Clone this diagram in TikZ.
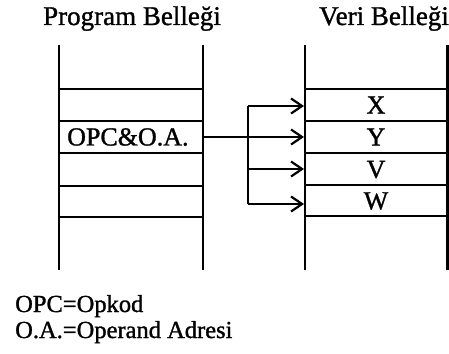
\documentclass[tikz,border=0pt]{standalone}
\usepackage{fontspec}
\setmainfont{Liberation Serif}[FakeBold=1.2]
\usetikzlibrary{arrows.meta}
\begin{document}
\begin{tikzpicture}[x=1pt,y=-1pt,
  wall/.style={line width=2.8pt},
  rowline/.style={line width=2pt},
  link/.style={line width=1.8pt},
  ptr/.style={link,-{Straight Barb[length=11pt,width=15pt,line width=2.2pt]}},
  title/.style={font=\fontsize{27}{30}\selectfont,inner sep=0pt},
  cell/.style={font=\fontsize{26}{28}\selectfont,inner sep=0pt},
  note/.style={font=\fontsize{24.5}{26}\selectfont,inner sep=0pt,anchor=base west}]
\useasboundingbox (0,0) rectangle (449,353);
% titles
\node[title,anchor=base] (tp) at (132,25) {Program Belleği};
\node[title,anchor=base] (tv) at (384,25) {Veri Belleği};
% program memory
\draw[wall] (59,45) -- (59,270);
\draw[wall] (203,45) -- (203,270);
\foreach \yy in {89,121,153,186,217} \draw[rowline] (59,\yy) -- (203,\yy);
% data memory
\draw[wall] (305,45) -- (305,270);
\draw[wall] (447.5,45) -- (447.5,270);
\foreach \yy in {89,121,153,185,216} \draw[rowline] (305,\yy) -- (448,\yy);
% cells
\node[cell,anchor=west] (opc) at (67,137) {OPC\&O.A.};
\node[cell] (x) at (376,105) {X};
\node[cell] (y) at (376,137) {Y};
\node[cell] (v) at (376,169.5) {V};
\node[cell] (w) at (376,201) {W};
% connectors
\coordinate (src) at (203,137);
\coordinate (b1) at (248,106);
\coordinate (b2) at (248,137);
\coordinate (b3) at (248,169);
\coordinate (b4) at (248,204);
\coordinate (t1) at (304,106);
\coordinate (t2) at (304,137);
\coordinate (t3) at (304,169);
\coordinate (t4) at (304,204);
\draw[link] (b1) -- (b4);
\draw[link] (src) -- (b2);
\draw[ptr] (b1) -- (t1);
\draw[ptr] (b2) -- (t2);
\draw[ptr] (b3) -- (t3);
\draw[ptr] (b4) -- (t4);
% legend
\node[note] (n1) at (15,312) {OPC=Opkod};
\node[note] (n2) at (15,338) {O.A.=Operand Adresi};
\end{tikzpicture}
\end{document}
